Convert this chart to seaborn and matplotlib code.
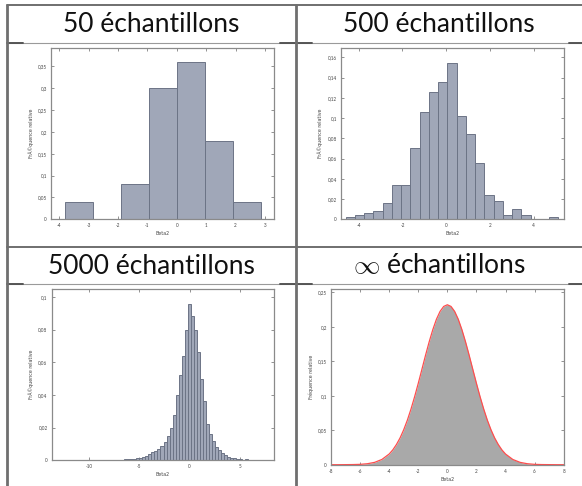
import numpy as np
import matplotlib
matplotlib.use("Agg")
import matplotlib.pyplot as plt
from matplotlib.lines import Line2D
from matplotlib.ticker import FuncFormatter, MultipleLocator
import seaborn as sns

# ---------------- data ----------------
titles = ["50 échantillons", "500 échantillons", "5000 échantillons", "$\\infty$ échantillons"]
xlabel = "Beta2"
ylabel_hist = "FrÃ©quence relative"
ylabel_curve = "Fréquence relative"

# 50 samples
h50_start, h50_width = -3.81, 0.953
h50_freq = [0.04, 0.0, 0.08, 0.30, 0.36, 0.18, 0.04]

# 500 samples
h500_start, h500_width = -4.60, 0.423
h500_freq = [0.002, 0.004, 0.006, 0.008, 0.016, 0.034, 0.034, 0.070, 0.106, 0.126,
             0.136, 0.154, 0.102, 0.084, 0.056, 0.024, 0.018, 0.004, 0.010, 0.004,
             0.0, 0.0, 0.002]

# 5000 samples
h5000_start, h5000_width = -13.40, 0.30
h5000_freq = [0.0, 0.0, 0.0, 0.0002, 0.0, 0.0, 0.0, 0.0, 0.0, 0.0002,
              0.0, 0.0, 0.0, 0.0, 0.0, 0.0002, 0.0, 0.0, 0.0, 0.0002,
              0.0, 0.0002, 0.0004, 0.0006, 0.0006, 0.0008, 0.0010, 0.0012, 0.0016, 0.0020,
              0.0028, 0.0036, 0.0048, 0.0056, 0.0070, 0.0086, 0.0110, 0.0150, 0.0200, 0.0280,
              0.0400, 0.0520, 0.0640, 0.0800, 0.0956, 0.0880, 0.0800, 0.0660, 0.0500, 0.0360,
              0.0220, 0.0160, 0.0120, 0.0080, 0.0060, 0.0044, 0.0030, 0.0020, 0.0016, 0.0012,
              0.0008, 0.0006, 0.0004, 0.0006, 0.0004, 0.0002, 0.0002, 0.0002, 0.0002, 0.0,
              0.0002]

# infinite samples (density curve)
curve_x = [-8.0, -7.5, -7.0, -6.5, -6.0, -5.5, -5.0, -4.5, -4.0, -3.75, -3.5, -3.25, -3.0,
           -2.75, -2.5, -2.25, -2.0, -1.75, -1.5, -1.25, -1.0, -0.75, -0.5, -0.25, 0.0,
           0.25, 0.5, 0.75, 1.0, 1.25, 1.5, 1.75, 2.0, 2.25, 2.5, 2.75, 3.0, 3.25, 3.5,
           3.75, 4.0, 4.5, 5.0, 5.5, 6.0, 6.5, 7.0, 7.5, 8.0]
curve_y = [0.0, 0.0, 0.0001, 0.0002, 0.0005, 0.0014, 0.0034, 0.0076, 0.0155, 0.0215, 0.0293,
           0.0389, 0.0507, 0.0646, 0.0807, 0.0986, 0.1180, 0.1383, 0.1587, 0.1782, 0.1959,
           0.2110, 0.2224, 0.2296, 0.2320, 0.2296, 0.2224, 0.2110, 0.1959, 0.1782, 0.1587,
           0.1383, 0.1180, 0.0986, 0.0807, 0.0646, 0.0507, 0.0389, 0.0293, 0.0215, 0.0155,
           0.0076, 0.0034, 0.0014, 0.0005, 0.0002, 0.0001, 0.0, 0.0]

# ---------------- style ----------------
sns.set_theme(style="white")
plt.rcParams["font.family"] = ["Lato", "DejaVu Sans"]
plt.rcParams["axes.unicode_minus"] = False
plt.rcParams["mathtext.fontset"] = "cm"

W, H = 582, 486
fig = plt.figure(figsize=(W / 100, H / 100), dpi=100)
fig.patch.set_facecolor("white")

def box(l, t, r, b):
    return [l / W, 1 - b / H, (r - l) / W, (b - t) / H]

bar_face = "#a0a7b8"
bar_edge = "#6c7486"
frame_col = "#8a8a8a"

comma = FuncFormatter(lambda v, p: ("%g" % round(v, 4)).replace(".", ","))

def style_axes(ax, xlim, ylim, xstep, ystep, ylab):
    ax.set_xlim(*xlim)
    ax.set_ylim(*ylim)
    ax.xaxis.set_major_locator(MultipleLocator(xstep))
    ax.yaxis.set_major_locator(MultipleLocator(ystep))
    ax.yaxis.set_major_formatter(comma)
    ax.xaxis.set_major_formatter(FuncFormatter(lambda v, p: "%g" % v))
    ax.tick_params(direction="in", length=2.2, width=0.5, colors="#666666",
                   labelsize=3.3, labelcolor="#444444", pad=3,
                   top=True, right=True, bottom=True, left=True)
    for s in ax.spines.values():
        s.set_color(frame_col)
        s.set_linewidth(0.9)
    ax.set_xlabel(xlabel, fontsize=3.4, color="#444444", labelpad=2, family="DejaVu Sans")
    ax.set_ylabel(ylab, fontsize=3.4, color="#444444", labelpad=3, family="DejaVu Sans")
    ax.grid(False)
    ax.set_facecolor("white")

def hist(ax, start, width, freq):
    n = len(freq)
    edges = [start + width * k for k in range(n + 1)]
    centers = [start + width * (k + 0.5) for k in range(n)]
    sns.histplot(x=centers, weights=freq, bins=edges, stat="count", ax=ax,
                 color=bar_face, edgecolor=bar_edge, linewidth=0.7, alpha=1.0)

ax1 = fig.add_axes(box(51, 47.7, 274.3, 219.3))
hist(ax1, h50_start, h50_width, h50_freq)
style_axes(ax1, (-4.28, 3.32), (0, 0.393), 1, 0.05, ylabel_hist)

ax2 = fig.add_axes(box(341, 47.7, 563.7, 219.3))
hist(ax2, h500_start, h500_width, h500_freq)
style_axes(ax2, (-4.81, 5.37), (0, 0.1695), 2, 0.02, ylabel_hist)

ax3 = fig.add_axes(box(51.7, 288.7, 274.3, 460.3))
hist(ax3, h5000_start, h5000_width, h5000_freq)
style_axes(ax3, (-13.7, 8.4), (0, 0.105), 5, 0.02, ylabel_hist)

ax4 = fig.add_axes(box(331, 288.7, 563.7, 464.7))
ax4.fill_between(curve_x, curve_y, 0, color="#a9a9a9", linewidth=0)
sns.lineplot(x=curve_x, y=curve_y, ax=ax4, color="#ff4d4d", linewidth=0.9)
style_axes(ax4, (-8, 8), (0, 0.2553), 2, 0.05, ylabel_curve)

# ---------------- table rules ----------------
def hline(y, x0, x1, lw, col):
    fig.add_artist(Line2D([x0 / W, x1 / W], [1 - y / H, 1 - y / H], lw=lw, color=col,
                          transform=fig.transFigure))

def vline(x, y0, y1, lw, col):
    fig.add_artist(Line2D([x / W, x / W], [1 - y0 / H, 1 - y1 / H], lw=lw, color=col,
                          transform=fig.transFigure))

rule = "#6f6f6f"
for y in (5.3, 247.3):
    hline(y, 7, 582, 1.4, rule)
for y in (43, 284):
    hline(y, 7, 582, 0.8, "#9a9a9a")
    for a, b in ((7, 23), (280, 312), (569, 582)):
        hline(y, a, b, 1.4, "#555555")
vline(7, 5, 486, 2.0, rule)
vline(296, 5, 486, 2.0, rule)

# ---------------- titles ----------------
title_pos = [(151.5, 24.5), (439, 24.5), (151.5, 266), (439, 266)]
for t, (x, y) in zip(titles, title_pos):
    fig.text(x / W, 1 - y / H, t, ha="center", va="center", fontsize=19, color="#111111",
             fontweight="normal")

fig.savefig("out.png", dpi=100, facecolor="white")
